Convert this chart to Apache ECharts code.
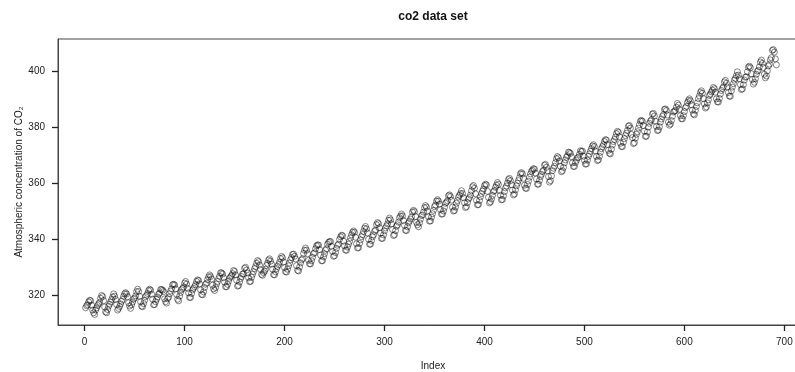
<!DOCTYPE html>
<html>
<head>
<meta charset="utf-8">
<script src="https://cdn.jsdelivr.net/npm/echarts@6/dist/echarts.min.js"></script>
<style>
html,body{margin:0;padding:0;background:#fff;}
#chart{width:795px;height:372px;}
</style>
</head>
<body>
<div id="chart"></div>
<script>
// Monthly atmospheric CO2 (ppm), Jan 1959 onwards
var co2_1959_1968 = [
315.62,316.38,316.71,317.72,318.29,318.15,316.54,314.80,313.84,313.26,314.80,315.58,
316.43,316.97,317.58,319.02,320.03,319.59,318.18,315.91,314.16,313.83,315.00,316.19,
316.93,317.70,318.54,319.48,320.58,319.77,318.57,316.79,314.80,315.38,316.10,317.01,
317.94,318.56,319.68,320.63,321.01,320.55,319.58,317.40,316.26,315.42,316.69,317.69,
318.74,319.08,319.86,321.39,322.25,321.47,319.74,317.77,316.21,315.99,317.12,318.31,
319.57,320.07,320.73,321.77,322.24,321.89,320.44,318.70,316.70,316.79,317.79,318.71,
319.44,320.44,320.89,322.13,322.16,321.87,321.39,318.81,317.81,317.30,318.87,319.42,
320.62,321.59,322.39,323.87,324.01,323.75,322.39,320.37,318.64,318.10,319.79,321.08,
322.07,322.50,323.04,324.42,325.00,324.09,322.55,320.92,319.31,319.31,320.72,321.96,
322.57,323.15,323.89,325.02,325.57,325.36,324.14,322.03,320.41,320.25,321.31,322.84
];
var co2_1969_1978 = [
324.00,324.42,325.64,326.66,327.34,326.76,325.88,323.67,322.38,321.78,322.85,324.11,
325.03,325.99,326.87,328.13,328.07,327.66,326.35,324.69,323.10,323.16,323.98,325.13,
326.17,326.68,327.18,327.78,328.92,328.57,327.34,325.46,323.36,323.57,324.80,326.01,
326.77,327.63,327.75,329.72,330.07,329.09,328.05,326.32,324.93,325.06,326.50,327.55,
328.54,329.56,330.30,331.50,332.48,332.07,330.87,329.31,327.51,327.18,328.16,328.64,
329.35,330.71,331.48,332.65,333.09,332.25,331.18,329.40,327.44,327.37,328.46,329.58,
330.40,331.00,331.87,333.17,333.94,333.45,331.98,329.95,328.50,328.35,329.37,330.58,
331.59,332.75,333.52,334.64,334.77,334.00,333.06,330.68,328.95,328.75,330.15,331.62,
332.66,333.13,334.95,336.13,336.93,336.17,334.88,332.56,331.29,331.27,332.41,333.60,
334.95,335.25,336.66,337.69,338.03,338.01,336.41,334.41,332.37,332.41,333.75,334.90
];
var co2_1979_1988 = [
336.14,336.69,338.27,338.96,339.21,339.26,337.54,335.75,333.98,334.19,335.31,336.81,
337.90,338.34,340.01,340.93,341.48,341.33,339.40,337.70,336.19,336.15,337.27,338.32,
339.29,340.55,341.61,342.53,343.03,342.54,340.78,338.44,336.95,337.08,338.58,339.88,
340.96,341.73,342.81,343.97,344.63,343.79,342.32,340.09,338.28,338.29,339.60,340.90,
341.68,342.90,343.33,345.25,346.03,345.63,344.19,342.27,340.35,340.38,341.59,343.05,
344.10,344.79,345.52,346.84,347.63,346.98,345.53,343.55,341.40,341.67,343.10,344.70,
345.21,346.16,347.74,348.34,349.06,348.38,346.72,345.02,343.27,343.13,344.49,345.88,
346.56,347.28,348.01,349.77,350.38,349.93,348.16,346.08,345.22,344.51,345.93,347.22,
348.52,348.73,349.73,351.31,352.09,351.53,350.11,348.08,346.52,346.59,347.96,349.16,
350.38,351.68,352.24,353.66,354.18,353.68,352.58,350.66,349.03,349.08,350.15,351.45
];
var co2_1989_1998 = [
352.89,353.24,353.80,355.59,355.89,355.30,353.98,351.53,350.11,350.33,351.55,352.91,
353.86,355.10,355.75,356.38,357.38,356.39,354.89,353.06,351.38,351.69,353.14,354.41,
354.93,355.82,357.33,358.77,359.23,358.23,356.30,353.97,352.34,352.43,353.89,355.21,
356.34,357.21,357.97,359.22,359.71,359.43,357.15,354.99,353.01,353.41,354.42,355.68,
357.10,357.42,358.59,359.39,360.30,359.64,357.45,355.76,354.14,354.23,355.53,357.03,
358.36,359.04,360.11,361.36,361.78,360.94,359.51,357.59,355.86,356.21,357.65,359.10,
360.04,361.00,361.98,363.44,363.83,363.33,361.78,359.33,358.32,358.14,359.61,360.82,
362.20,363.36,364.28,364.69,365.25,365.06,363.69,361.55,359.69,359.72,361.04,362.39,
363.24,364.21,364.65,366.49,366.77,365.73,364.46,362.40,360.44,360.98,362.65,364.51,
365.39,366.10,367.36,368.79,369.56,369.13,367.98,366.10,364.16,364.54,365.67,367.30
];
var co2_1999_2008 = [
368.35,369.28,369.84,371.15,370.98,370.66,369.49,367.31,366.03,366.03,367.40,368.20,
369.07,369.32,370.38,371.63,371.32,371.51,369.69,368.18,366.87,366.94,368.27,369.64,
370.47,371.44,372.39,373.32,373.77,373.13,371.51,369.59,368.12,368.38,369.66,371.11,
372.36,373.09,373.81,374.93,375.58,375.44,373.86,371.77,370.73,370.50,372.18,373.70,
374.92,375.63,376.51,377.75,378.54,378.21,376.65,374.28,373.12,373.10,374.67,375.97,
377.03,377.87,378.88,380.42,380.62,379.70,377.43,376.32,374.19,374.47,376.15,377.51,
378.43,379.70,380.91,382.20,382.45,382.14,380.60,378.64,376.73,376.84,378.29,380.06,
381.40,382.20,382.66,384.69,384.94,384.01,382.14,380.31,378.81,379.03,380.17,381.85,
382.94,383.86,384.49,386.37,386.54,385.98,384.36,381.85,380.74,381.15,382.38,383.94,
385.44,385.73,385.97,387.16,388.50,387.88,386.42,384.15,383.09,382.99,384.13,385.56
];
var co2_2009_2016 = [
386.94,387.48,388.82,389.55,390.14,389.48,388.03,386.11,384.74,384.43,386.02,387.42,
388.71,390.20,391.17,392.46,393.00,392.15,390.20,388.35,386.85,387.24,388.67,389.79,
391.33,391.86,392.60,393.25,394.19,393.74,392.51,390.13,389.08,389.00,390.28,391.86,
393.12,393.86,394.40,396.18,396.74,395.71,394.36,392.39,391.11,391.05,392.98,394.34,
395.55,396.80,397.43,398.41,399.78,398.60,397.32,395.20,393.45,393.70,395.16,396.84,
397.85,398.01,399.77,401.38,401.78,401.25,399.10,397.03,395.38,396.03,397.28,398.91,
399.98,400.28,401.54,403.28,403.96,402.80,401.31,398.93,397.63,398.29,400.16,401.85,
402.52,404.04,404.83,407.42,407.70,406.81,404.39,402.25
];
var xTicks = [0, 100, 200, 300, 400, 500, 600, 700];
var yTicks = [320, 340, 360, 380, 400];

var co2 = [].concat(co2_1959_1968, co2_1969_1978, co2_1979_1988,
                    co2_1989_1998, co2_1999_2008, co2_2009_2016);
var points = co2.map(function (v, i) { return [i + 1, v]; });

var n = co2.length;
var xpad = 0.04 * (n - 1);
var ymin = Math.min.apply(null, co2), ymax = Math.max.apply(null, co2);
var ypad = 0.04 * (ymax - ymin);

var chart = echarts.init(document.getElementById('chart'), null, {renderer: 'canvas'});
var font = 'Liberation Sans, Arial, sans-serif';
chart.setOption({
  animation: false,
  backgroundColor: '#ffffff',
  grid: {
    left: 58, top: 39, bottom: 47, right: -9,
    outerBoundsMode: 'none', containLabel: false,
    show: true, borderColor: '#444', borderWidth: 1, backgroundColor: 'transparent'
  },
  xAxis: {
    type: 'value',
    position: 'bottom',
    min: 1 - xpad, max: n + xpad,
    axisLine: {show: true, onZero: false, lineStyle: {color: '#444'}},
    splitLine: {show: false},
    axisTick: {show: true, length: 6, lineStyle: {color: '#222', width: 1.3}, customValues: xTicks},
    axisLabel: {show: true, color: '#222', fontFamily: font, fontSize: 10, margin: 12, customValues: xTicks}
  },
  yAxis: {
    type: 'value',
    position: 'left',
    min: ymin - ypad, max: ymax + ypad,
    axisLine: {show: true, onZero: false, lineStyle: {color: '#444'}},
    splitLine: {show: false},
    axisTick: {show: true, length: 6, lineStyle: {color: '#222', width: 1.3}, customValues: yTicks},
    axisLabel: {show: true, color: '#222', fontFamily: font, fontSize: 10, margin: 13, customValues: yTicks}
  },
  graphic: [
    {type: 'text', x: 433, y: 17, style: {text: 'co2 data set', font: 'bold 12px ' + font, fill: '#111',
      textAlign: 'center', textVerticalAlign: 'middle'}},
    {type: 'text', x: 433, y: 366, style: {text: 'Index', font: '10px ' + font, fill: '#222',
      textAlign: 'center', textVerticalAlign: 'middle'}},
    {type: 'text', x: 19, y: 182, rotation: Math.PI / 2, style: {text: 'Atmospheric concentration of CO\u2082',
      font: '10px ' + font, fill: '#222', textAlign: 'center', textVerticalAlign: 'middle'}}
  ],
  series: [{
    type: 'scatter',
    data: points,
    symbol: 'circle',
    symbolSize: 6,
    itemStyle: {color: 'rgba(255,255,255,0)', borderColor: '#000', borderWidth: 0.6},
    emphasis: {disabled: true}
  }]
});
</script>
</body>
</html>
